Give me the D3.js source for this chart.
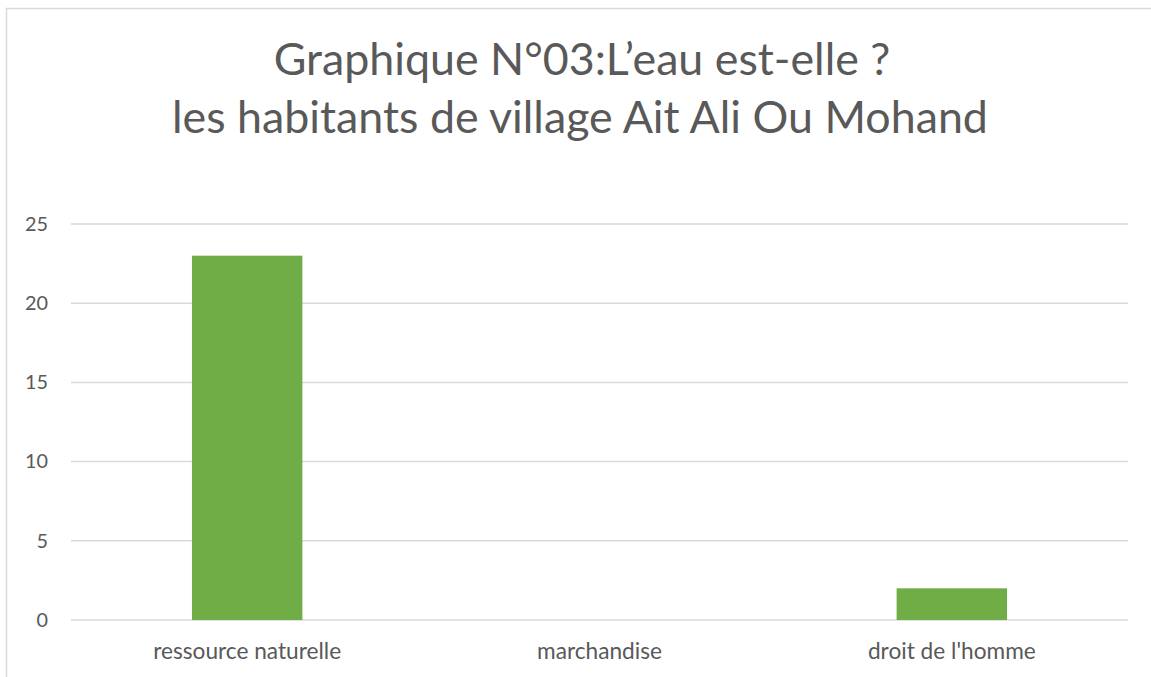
<!DOCTYPE html>
<html>
<head>
<meta charset="utf-8">
<script src="https://cdn.jsdelivr.net/npm/d3@7"></script>
<style>
    body { margin: 0; background: #fff; }
    svg text { font-family: Lato, "Open Sans", sans-serif; fill: #595959; }
</style>
</head>
<body>
<div id="chart"></div>
<script>
// chart data
let categories = ["ressource naturelle", "marchandise", "droit de l'homme"];
let values = [23, 0, 2];
let yTicks = [0, 5, 10, 15, 20, 25];
let titleLines = ["Graphique N°03:L’eau est-elle ?", "les habitants de village Ait Ali Ou Mohand"];

let width = 1151, height = 677;
let margin = {top: 224, right: 23, bottom: 57, left: 71};

let svg = d3.select("#chart").append("svg")
    .attr("width", width)
    .attr("height", height);

// chart frame (left and top edges visible)
svg.append("path")
    .attr("d", `M6.5,${height} V8.5 H${width}`)
    .attr("fill", "none")
    .attr("stroke", "#d9d9d9")
    .attr("stroke-width", 1.5);

// fit a text element's font size to a target width
function fitWidth(sel, target) {
    let node = sel.node();
    let size = parseFloat(sel.attr("font-size"));
    let w = node.getComputedTextLength();
    let s = size * target / w;
    sel.attr("font-size", s.toFixed(2));
    return s;
}

// title
let title = svg.append("g").attr("class", "title");
let t1 = title.append("text")
    .attr("x", 582).attr("y", 75)
    .attr("text-anchor", "middle")
    .attr("font-size", 40)
    .text(titleLines[0]);
let t2 = title.append("text")
    .attr("x", 580).attr("y", 133)
    .attr("text-anchor", "middle")
    .attr("font-size", 40)
    .text(titleLines[1]);
fitWidth(t2, 816);
t1.attr("font-size", t2.attr("font-size"));

let plotW = width - margin.left - margin.right;
let plotH = height - margin.top - margin.bottom;

let g = svg.append("g")
    .attr("transform", `translate(${margin.left}, ${margin.top})`);

let x = d3.scaleBand()
    .domain(categories)
    .range([0, plotW])
    .paddingInner(0.6866)
    .paddingOuter(0.3433);

let y = d3.scaleLinear()
    .domain([0, 25])
    .range([plotH, 0]);

// gridlines
g.append("g")
    .attr("class", "grid")
    .selectAll("line")
    .data(yTicks)
    .enter().append("line")
    .attr("x1", 0)
    .attr("x2", plotW)
    .attr("y1", d => y(d))
    .attr("y2", d => y(d))
    .attr("stroke", "#d9d9d9")
    .attr("stroke-width", 1.5);

// bars
g.selectAll(".bar")
    .data(values)
    .enter().append("rect")
    .attr("class", "bar")
    .attr("x", (d, i) => x(categories[i]))
    .attr("width", x.bandwidth())
    .attr("y", d => y(d))
    .attr("height", d => plotH - y(d))
    .attr("fill", "#70ad47");

// y axis labels
let yAxis = g.append("g")
    .attr("class", "axis y-axis")
    .call(d3.axisLeft(y).tickValues(yTicks).tickSize(0).tickPadding(23));
yAxis.select(".domain").remove();
yAxis.selectAll("text")
    .attr("font-size", 20)
    .style("font-family", "Lato, sans-serif")
    .attr("fill", "#595959");
let ySize = fitWidth(yAxis.selectAll("text").filter(d => d === 25), 23);
yAxis.selectAll("text").attr("font-size", ySize.toFixed(2));

// x axis labels
let xAxis = g.append("g")
    .attr("class", "axis x-axis")
    .attr("transform", `translate(0, ${plotH})`)
    .call(d3.axisBottom(x).tickSize(0).tickPadding(23));
xAxis.select(".domain").remove();
xAxis.selectAll("text")
    .attr("font-size", 20)
    .style("font-family", "Lato, sans-serif")
    .attr("fill", "#595959");
let xSize = fitWidth(xAxis.selectAll("text").filter(d => d === categories[0]), 188);
xAxis.selectAll("text").attr("font-size", xSize.toFixed(2));
</script>
</body>
</html>
